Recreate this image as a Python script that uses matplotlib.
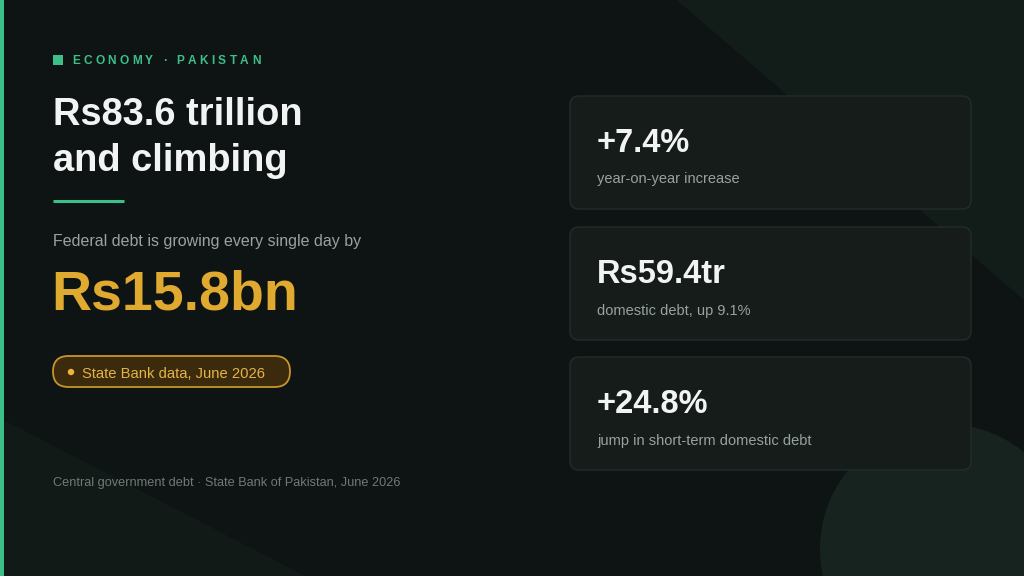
import matplotlib
matplotlib.use("Agg")
import matplotlib.pyplot as plt
from matplotlib.patches import FancyBboxPatch, Polygon, Circle, Rectangle

plt.rcParams['font.family'] = ['Liberation Sans', 'DejaVu Sans']

## content
kicker = "ECONOMY · PAKISTAN"
headline = ["Rs83.6 trillion", "and climbing"]
lead_text = "Federal debt is growing every single day by"
daily_growth = "Rs15.8bn"
badge_text = "State Bank data, June 2026"
footer_text = "Central government debt · State Bank of Pakistan, June 2026"
card_values = ["+7.4%", "Rs59.4tr", "+24.8%"]
card_labels = ["year-on-year increase", "domestic debt, up 9.1%", "jump in short-term domestic debt"]

## palette
BG = "#0e1413"
GREEN = "#3dbf8a"
GOLD = "#e0a92f"
WHITE = "#f2f4f3"
GREY = "#98a39f"
MUTED = "#6e7a76"

W, H = 1024, 576
fig = plt.figure(figsize=(W / 100, H / 100), dpi=100)
fig.patch.set_facecolor(BG)
ax = fig.add_axes([0, 0, 1, 1])
ax.set_xlim(0, W)
ax.set_ylim(H, 0)
ax.axis("off")
ax.set_facecolor(BG)

## background shapes
ax.add_patch(Polygon([(677, 0), (W, 0), (W, 300)], closed=True, facecolor="#121c19", edgecolor="none", zorder=0))
ax.add_patch(Polygon([(0, 418), (305, H), (0, H)], closed=True, facecolor="#111a17", edgecolor="none", zorder=0))
ax.add_patch(Circle((945, 549), 125, facecolor="#16231f", edgecolor="none", zorder=0))
ax.add_patch(Rectangle((0, 0), 4, H, facecolor=GREEN, edgecolor="none", zorder=1))

## kicker with letter spacing
fig.canvas.draw()
renderer = fig.canvas.get_renderer()
ax.add_patch(Rectangle((53, 55), 10, 10, facecolor=GREEN, edgecolor="none", zorder=2))
x = 72.0
for ch in kicker:
    t = ax.text(x, 61, ch, color=GREEN, fontsize=8.6, fontweight="bold", va="center", ha="left", zorder=2)
    bb = t.get_window_extent(renderer=renderer)
    x += bb.width + 3.3

## headline
ax.text(53, 125, headline[0], color=WHITE, fontsize=27.4, fontweight="bold", va="baseline", ha="left")
ax.text(53, 171, headline[1], color=WHITE, fontsize=27.4, fontweight="bold", va="baseline", ha="left")
ax.plot([53, 124], [201, 201], color=GREEN, linewidth=2.2, solid_capstyle="butt")

## daily growth
ax.text(53, 246, lead_text, color=GREY, fontsize=11.55, va="baseline", ha="left")
ax.text(51, 310, daily_growth, color=GOLD, fontsize=40, fontweight="bold", va="baseline", ha="left")

## badge
ax.add_patch(FancyBboxPatch((53, 356), 237, 31, boxstyle="round,pad=0,rounding_size=15.5",
                            facecolor="#3b2a0c", edgecolor="#c8952b", linewidth=1.3, zorder=2))
ax.add_patch(Circle((71, 372), 3.2, facecolor="#f0b43a", edgecolor="none", zorder=3))
ax.text(82, 378, badge_text, color="#e3b446", fontsize=10.6, va="baseline", ha="left", zorder=3)

## footer
ax.text(53, 486, footer_text, color=MUTED, fontsize=9.15, va="baseline", ha="left")

## stat cards
card_tops = [96, 227, 357]
card_h = 113
for top, val, lab in zip(card_tops, card_values, card_labels):
    ax.add_patch(FancyBboxPatch((570, top), 401, card_h, boxstyle="round,pad=0,rounding_size=9",
                                facecolor="#151c1a", edgecolor="#232d2a", linewidth=1.0, zorder=2))
    ax.text(597, top + 56, val, color=WHITE, fontsize=23.5, fontweight="bold", va="baseline", ha="left", zorder=3)
    ax.text(597, top + 87.5, lab, color=GREY, fontsize=10.5, va="baseline", ha="left", zorder=3)

fig.savefig("out.png", dpi=100, facecolor=BG)
